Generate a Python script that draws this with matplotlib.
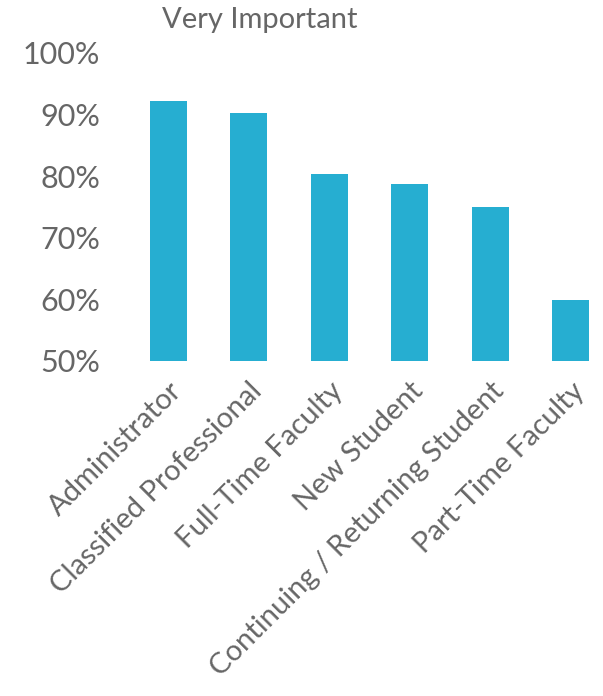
import matplotlib.pyplot as plt
from matplotlib.ticker import PercentFormatter

groups = ['Administrator', 'Classified Professional', 'Full-Time Faculty',
          'New Student', 'Continuing / Returning Student', 'Part-Time Faculty']
very_important = [0.922, 0.903, 0.803, 0.788, 0.750, 0.599]

bar_color = '#26AED1'
text_color = '#666666'
plt.rcParams['font.family'] = ['Lato', 'DejaVu Sans']

fig = plt.figure(figsize=(6.03, 6.96), dpi=100)
ax = fig.add_axes([128 / 603, 1 - 361 / 696, 1 - 128 / 603, (361 - 53) / 696])

x = range(len(groups))
ax.bar(x, very_important, width=0.46, color=bar_color)

ax.set_ylim(0.5, 1.0)
ax.set_xlim(-0.5, 5.4)
ax.set_yticks([0.5, 0.6, 0.7, 0.8, 0.9, 1.0])
ax.yaxis.set_major_formatter(PercentFormatter(1.0, decimals=0))
ax.set_xticks(list(x))
ax.set_xticklabels(groups, rotation=45, ha='right', rotation_mode='anchor')

for s in ax.spines.values():
    s.set_visible(False)
ax.tick_params(length=0, labelcolor=text_color)
ax.tick_params(axis='y', pad=20, labelsize=22)
ax.tick_params(axis='x', pad=12, labelsize=21)

fig.text(260 / 603, 1 - 20 / 696, 'Very Important', ha='center', va='center',
         fontsize=21, color=text_color)

fig.savefig('out.png', dpi=100)
